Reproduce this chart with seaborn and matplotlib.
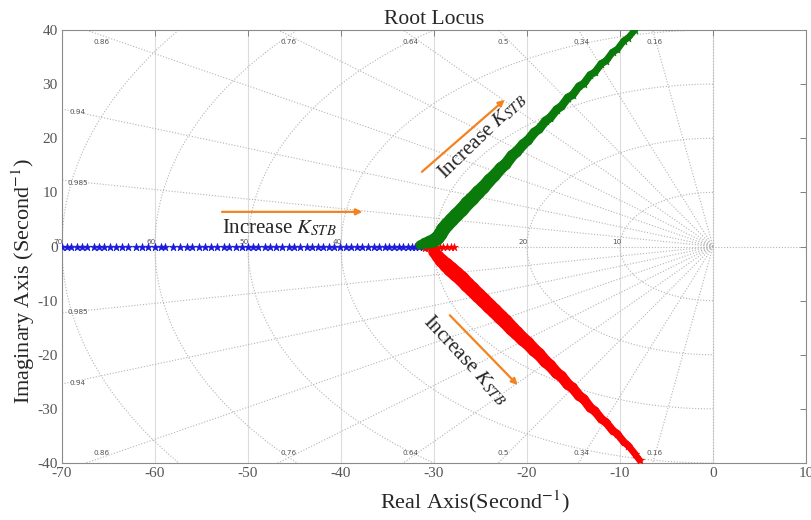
import numpy as np
import pandas as pd
import matplotlib
matplotlib.use("Agg")
import matplotlib.pyplot as plt
from matplotlib.collections import LineCollection
import seaborn as sns

# ---- closed-loop pole locations as the gain K_STB rises ----
# branch on the real axis (moves right)
blue_re = [-70.0, -69.5, -69.0, -68.4, -67.9, -67.3, -66.6, -66.0, -65.5, -64.8,
           -64.2, -63.5, -62.9, -62.0, -61.4, -60.7, -60.0, -59.4, -58.9, -58.1,
           -57.3, -56.6, -56.0, -55.3, -54.6, -54.0, -53.3, -52.6, -52.0, -51.3,
           -50.6, -50.0, -49.5, -48.9, -48.2, -47.6, -47.0, -46.3, -45.6, -45.0,
           -44.4, -43.7, -43.1, -42.5, -41.9, -41.3, -40.7, -40.1, -39.5, -38.9,
           -38.3, -37.7, -37.1, -36.5, -35.9, -35.3, -34.8, -34.3, -33.8, -33.3,
           -32.8, -32.4, -32.0, -31.6, -31.2]
blue_im = [0.0] * len(blue_re)

# upper complex branch
green_re = [-31.5, -31.0, -30.5, -30.0, -29.6, -29.3, -29.0, -28.6, -28.1, -27.6,
            -27.0, -26.4, -25.9, -25.2, -24.7, -24.0, -23.5, -22.8, -22.3, -21.6,
            -21.1, -20.4, -19.9, -19.2, -18.7, -18.0, -17.5, -16.8, -16.3, -15.6,
            -15.1, -14.4, -13.9, -13.2, -12.7, -12.0, -11.5, -10.8, -10.3, -9.6,
            -9.1, -8.4]
green_im = [0.3, 0.6, 0.8, 1.1, 1.6, 2.3, 3.2, 4.0, 4.9, 5.8,
            6.8, 8.0, 8.8, 10.1, 10.9, 12.3, 13.1, 14.5, 15.2, 16.8,
            17.5, 18.9, 19.6, 21.1, 21.7, 23.2, 23.8, 25.3, 25.9, 27.5,
            28.0, 29.6, 30.1, 31.7, 32.2, 33.8, 34.3, 35.9, 36.4, 38.0,
            38.6, 40.0]

# lower complex branch
red_re = [-30.0, -29.6, -29.2, -28.7, -28.2, -27.6, -27.0, -26.4, -25.9, -25.2,
          -24.7, -24.0, -23.5, -22.8, -22.3, -21.6, -21.1, -20.4, -19.9, -19.2,
          -18.7, -18.0, -17.5, -16.8, -16.3, -15.6, -15.1, -14.4, -13.9, -13.2,
          -12.7, -12.0, -11.5, -10.8, -10.3, -9.6, -9.1, -8.4, -7.9]
red_im = [-1.0, -1.8, -2.6, -3.4, -4.2, -5.1, -6.0, -7.1, -7.9, -9.1,
          -9.9, -11.1, -11.9, -13.1, -13.9, -15.2, -16.0, -17.2, -17.9, -19.2,
          -19.9, -21.3, -22.0, -23.4, -24.0, -25.5, -26.1, -27.6, -28.2, -29.8,
          -30.4, -31.9, -32.5, -34.0, -34.6, -36.1, -36.8, -38.3, -39.5]
# short piece of the lower branch lying on the real axis
red_axis_re = [-31.0, -30.6, -30.2, -29.8, -29.4, -29.0, -28.6, -28.2, -27.8]
red_axis_im = [-0.2, -0.2, -0.2, -0.2, -0.1, -0.1, -0.1, 0.0, 0.0]

# s-plane grid: damping ratios and natural frequencies
zetas = [0.16, 0.34, 0.5, 0.64, 0.76, 0.86, 0.94, 0.985]
wn_list = [10, 20, 30, 40, 50, 60, 70]

x_ticks = [-70, -60, -50, -40, -30, -20, -10, 0, 10]
y_ticks = [-40, -30, -20, -10, 0, 10, 20, 30, 40]

df = pd.concat([
    pd.DataFrame({"re": blue_re, "im": blue_im, "branch": "real"}),
    pd.DataFrame({"re": green_re, "im": green_im, "branch": "upper"}),
    pd.DataFrame({"re": red_re, "im": red_im, "branch": "lower"}),
    pd.DataFrame({"re": red_axis_re, "im": red_axis_im, "branch": "lower_axis"}),
], ignore_index=True)

sns.set_theme(style="white")
plt.rcParams["font.family"] = ["Liberation Serif", "DejaVu Serif"]
plt.rcParams["mathtext.fontset"] = "stix"
plt.rcParams["axes.unicode_minus"] = False

fig = plt.figure(figsize=(8.12, 5.2), dpi=100)
ax = fig.add_axes([62 / 812, 1 - 463 / 520, 744 / 812, 433 / 520])
ax.set_xlim(-70, 10)
ax.set_ylim(-40, 40)

grid_c = "#b4b4b4"
dot = (0, (1, 1.6))

# vertical reference lines at the x ticks
for xv in x_ticks:
    ax.axvline(xv, color="#dcdcdc", lw=0.8, zorder=0)

# constant-damping rays
for z in zetas:
    th = np.arccos(z)
    for sgn in (1, -1):
        ax.plot([0, -120 * np.cos(th)], [0, sgn * 120 * np.sin(th)],
                color=grid_c, lw=0.8, ls=dot, zorder=0.5)
ax.plot([-70, 10], [0, 0], color=grid_c, lw=0.8, ls=dot, zorder=0.5)
ax.plot([0, 0], [-40, 40], color=grid_c, lw=0.8, ls=dot, zorder=0.5)

# constant natural-frequency arcs
t = np.linspace(np.pi / 2, 3 * np.pi / 2, 400)
for r in wn_list:
    ax.plot(r * np.cos(t), r * np.sin(t), color=grid_c, lw=0.8, ls=dot, zorder=0.5)

lab_kw = dict(fontsize=5.2, color="#555555", family="DejaVu Sans",
              ha="center", va="center", zorder=1)
for z in zetas:
    th = np.arccos(z)
    if np.tan(th) > 40 / 70:
        xl = -39 / np.tan(th)
        ax.text(xl, 37.8, f"{z:g}", **lab_kw)
        ax.text(xl, -38.2, f"{z:g}", **lab_kw)
    else:
        yl = 70 * np.tan(th) - 0.6
        ax.text(-68.3, yl, f"{z:g}", **lab_kw)
        ax.text(-68.3, -yl - 0.4, f"{z:g}", **lab_kw)
for r in wn_list:
    ax.text(-r - 0.4, 0.9, f"{r}", clip_on=False, **lab_kw)

# root-locus branches
GREEN, RED, BLUE = "#0a7a0a", "#ff0000", "#1a1adb"


def tapered_band(sub, color, knots, widths, z):
    """Thick trace of a branch whose width shrinks as the gain grows."""
    pts = sub[["re", "im"]].to_numpy()
    segs = np.stack([pts[:-1], pts[1:]], axis=1)
    idx = np.arange(len(segs)) + 0.5
    lw = np.interp(idx, knots, widths)
    lc = LineCollection(segs, colors=color, linewidths=lw, capstyle="round",
                        joinstyle="round", zorder=z)
    ax.add_collection(lc)


up = df[df.branch == "upper"]
lo = df[df.branch == "lower"]
tapered_band(up, GREEN, [0, 3, 12, 24, len(up) - 1], [6, 10, 10, 6.5, 4.5], 3.2)
tapered_band(lo, RED, [0, 4, 14, 26, len(lo) - 1], [8, 11, 10.5, 7.5, 4.5], 3.1)

sns.scatterplot(data=df[df.branch == "real"], x="re", y="im", marker="*",
                s=34, color=BLUE, edgecolor=BLUE, linewidth=0.5,
                ax=ax, zorder=3, legend=False)
sns.scatterplot(data=df[df.branch == "lower_axis"], x="re", y="im", marker="*",
                s=34, color=RED, edgecolor=RED, linewidth=0.4,
                ax=ax, zorder=3, legend=False)
sns.scatterplot(data=lo, x="re", y="im", marker="*", s=40, color=RED,
                edgecolor=RED, linewidth=0.4, ax=ax, zorder=3.5, legend=False)
sns.scatterplot(data=up, x="re", y="im", marker="*", s=40, color=GREEN,
                edgecolor=GREEN, linewidth=0.4, ax=ax, zorder=4, legend=False)

# gain-direction annotations
arrow_c = "#f5821f"
arr = dict(arrowstyle="-|>", color=arrow_c, lw=1.6, mutation_scale=9,
           shrinkA=0, shrinkB=0)
ax.annotate("", xy=(-37.7, 6.4), xytext=(-52.8, 6.4), arrowprops=arr, zorder=5)
ax.annotate("", xy=(-22.4, 27.1), xytext=(-31.3, 13.8), arrowprops=arr, zorder=5)
ax.annotate("", xy=(-21.0, -25.6), xytext=(-28.3, -12.7), arrowprops=arr, zorder=5)

txt = "Increase $K_{STB}$"
ax.text(-46.6, 3.5, txt, fontsize=15, ha="center", va="center", zorder=6)
ax.text(-24.8, 20.4, txt, fontsize=15, ha="center", va="center",
        rotation=44, rotation_mode="anchor", zorder=6)
ax.text(-26.6, -21.0, txt, fontsize=15, ha="center", va="center",
        rotation=-47, rotation_mode="anchor", zorder=6)

# axes cosmetics
ax.set_xticks(x_ticks)
ax.set_yticks(y_ticks)
ax.tick_params(direction="in", length=4, width=0.7, color="#808080",
               top=True, right=True, labelsize=11, labelcolor="#555555", pad=3)
for sp in ax.spines.values():
    sp.set_color("#8c8c8c")
    sp.set_linewidth(0.8)

ax.set_title("Root Locus", fontsize=15.5, pad=4)
ax.set_xlabel("Real Axis(Second$^{-1}$)", fontsize=16)
ax.set_ylabel("Imaginary Axis (Second$^{-1}$)", fontsize=16)
ax.xaxis.set_label_coords(0.555, -0.058)
ax.yaxis.set_label_coords(-0.034, 0.42)

fig.savefig("out.png", dpi=100)
